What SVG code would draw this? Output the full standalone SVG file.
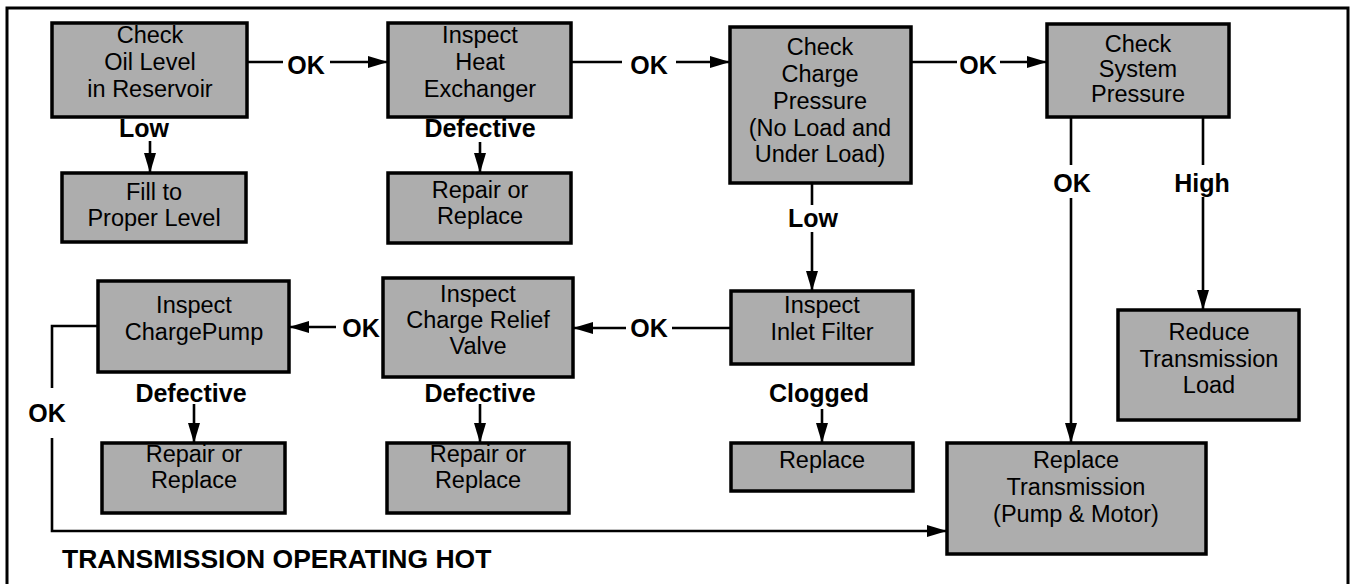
<svg xmlns="http://www.w3.org/2000/svg" width="1351" height="584" viewBox="0 0 1351 584">
<style>
.box rect{fill:#adadad;stroke:#000;stroke-width:3.5}
.box text{font-family:"Liberation Sans",Arial,sans-serif;font-size:23.5px;text-anchor:middle;fill:#000}
.lbl{font-family:"Liberation Sans",Arial,sans-serif;font-size:25px;font-weight:bold;text-anchor:middle;fill:#000}
#connectors path{fill:none;stroke:#000;stroke-width:2.6}
.arr{marker-end:url(#ah)}
</style>
<defs>
<marker id="ah" markerUnits="userSpaceOnUse" markerWidth="20" markerHeight="12" refX="20" refY="6" orient="auto">
<path d="M0,0 L20,6 L0,12 z" fill="#000"/>
</marker>
</defs>
<rect width="1351" height="584" fill="#fff"/>
<path d="M7,584 V8 H1348 V584" fill="none" stroke="#000" stroke-width="3"/>

<g id="connectors">
<path d="M247,62 H283"/>
<path class="arr" d="M330,62 H388"/>
<path class="arr" d="M150,141 V173"/>
<path d="M571,62 H622"/>
<path class="arr" d="M676,62 H730"/>
<path class="arr" d="M480,142 V173"/>
<path d="M911,62 H957"/>
<path class="arr" d="M1000,62 H1047"/>
<path d="M812,183 V205"/>
<path class="arr" d="M812,232 V291"/>
<path d="M1071,117 V165"/>
<path class="arr" d="M1071,198 V443"/>
<path d="M1203,117 V165"/>
<path class="arr" d="M1203,197 V310"/>
<path d="M731,328 H672"/>
<path class="arr" d="M626,328 H573"/>
<path class="arr" d="M336,327 H289"/>
<path class="arr" d="M194,404 V443"/>
<path class="arr" d="M480,404 V443"/>
<path class="arr" d="M822,409 V443"/>
<path d="M98,326 H52 V388"/>
<path class="arr" d="M52,438 V531 H947"/>
</g>

<g id="labels">
<text class="lbl" x="306" y="74">OK</text>
<text class="lbl" x="144" y="137">Low</text>
<text class="lbl" x="649" y="74">OK</text>
<text class="lbl" x="480" y="137">Defective</text>
<text class="lbl" x="978" y="74">OK</text>
<text class="lbl" x="813" y="227">Low</text>
<text class="lbl" x="1072" y="192">OK</text>
<text class="lbl" x="1202" y="192">High</text>
<text class="lbl" x="649" y="337">OK</text>
<text class="lbl" x="361" y="337">OK</text>
<text class="lbl" x="191" y="402">Defective</text>
<text class="lbl" x="480" y="402">Defective</text>
<text class="lbl" x="819" y="402">Clogged</text>
<text class="lbl" x="47" y="422">OK</text>
<text class="lbl" x="62" y="568" style="text-anchor:start;font-size:26.5px">TRANSMISSION OPERATING HOT</text>
</g>

<g id="n-oil" class="box"><rect x="52" y="23" width="195" height="94"/>
<text x="150" y="43">Check</text><text x="150" y="70">Oil Level</text><text x="150" y="97">in Reservoir</text></g>
<g id="n-fill" class="box"><rect x="62" y="173" width="184" height="69"/>
<text x="154" y="200">Fill to</text><text x="154" y="226">Proper Level</text></g>
<g id="n-heat" class="box"><rect x="388" y="23" width="183" height="94"/>
<text x="480" y="43">Inspect</text><text x="480" y="70">Heat</text><text x="480" y="97">Exchanger</text></g>
<g id="n-repair1" class="box"><rect x="388" y="173" width="183" height="70"/>
<text x="480" y="198">Repair or</text><text x="480" y="224">Replace</text></g>
<g id="n-charge" class="box"><rect x="730" y="27" width="181" height="156"/>
<text x="820" y="55">Check</text><text x="820" y="82">Charge</text><text x="820" y="109">Pressure</text><text x="820" y="136">(No Load and</text><text x="820" y="162">Under Load)</text></g>
<g id="n-system" class="box"><rect x="1047" y="24" width="182" height="93"/>
<text x="1138" y="52">Check</text><text x="1138" y="77">System</text><text x="1138" y="102">Pressure</text></g>
<g id="n-inlet" class="box"><rect x="731" y="291" width="182" height="73"/>
<text x="822" y="313">Inspect</text><text x="822" y="340">Inlet Filter</text></g>
<g id="n-relief" class="box"><rect x="383" y="278" width="190" height="99"/>
<text x="478" y="302">Inspect</text><text x="478" y="328">Charge Relief</text><text x="478" y="354">Valve</text></g>
<g id="n-pump" class="box"><rect x="98" y="281" width="191" height="91"/>
<text x="194" y="313">Inspect</text><text x="194" y="340">ChargePump</text></g>
<g id="n-repair2" class="box"><rect x="102" y="443" width="183" height="70"/>
<text x="194" y="462">Repair or</text><text x="194" y="488">Replace</text></g>
<g id="n-repair3" class="box"><rect x="387" y="443" width="182" height="70"/>
<text x="478" y="462">Repair or</text><text x="478" y="488">Replace</text></g>
<g id="n-replace" class="box"><rect x="731" y="443" width="182" height="48"/>
<text x="822" y="468">Replace</text></g>
<g id="n-reduce" class="box"><rect x="1118" y="310" width="181" height="110"/>
<text x="1209" y="340">Reduce</text><text x="1209" y="367">Transmission</text><text x="1209" y="393">Load</text></g>
<g id="n-trans" class="box"><rect x="947" y="443" width="259" height="111"/>
<text x="1076" y="468">Replace</text><text x="1076" y="495">Transmission</text><text x="1076" y="522">(Pump &amp; Motor)</text></g>
</svg>
